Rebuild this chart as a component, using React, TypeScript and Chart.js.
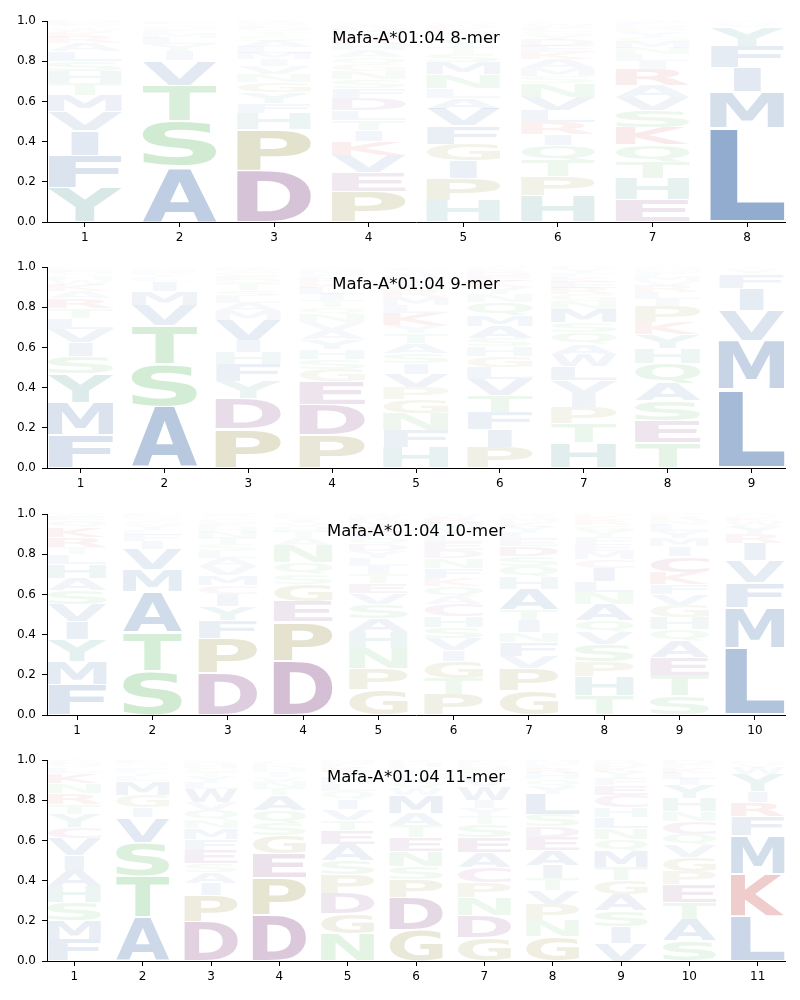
import React, { useEffect, useRef } from "react";
import { Chart, registerables } from "chart.js";
Chart.register(...registerables);

const titles = ["Mafa-A*01:04 8-mer", "Mafa-A*01:04 9-mer", "Mafa-A*01:04 10-mer", "Mafa-A*01:04 11-mer"];
const yTicks = [0, 0.2, 0.4, 0.6, 0.8, 1.0];

// letters stacked bottom -> top, heights aligned
const letters8 = ["YFIVMTHSLARKWQED", "ASTVIYLMFGQE", "DPHFYGNVIMLASTQEWR", "PEVKITLDFSNGQAHRYMWC", "HPIGFVALNMSTYQEKDW", "HPTQIRLVNSMAKEDYGFWC", "EHTQKSVARILNMGYPDFW", "LMIFYVW"];
const heights8 = [
  [0.17, 0.16, 0.125, 0.095, 0.08, 0.06, 0.06, 0.05, 0.05, 0.04, 0.03, 0.025, 0.02, 0.015, 0.01, 0.01],
  [0.275, 0.225, 0.18, 0.125, 0.045, 0.035, 0.03, 0.025, 0.02, 0.015, 0.01, 0.01],
  [0.255, 0.205, 0.08, 0.05, 0.055, 0.05, 0.04, 0.04, 0.035, 0.03, 0.03, 0.03, 0.025, 0.02, 0.02, 0.015, 0.01, 0.01],
  [0.15, 0.095, 0.085, 0.07, 0.055, 0.05, 0.05, 0.06, 0.05, 0.045, 0.04, 0.035, 0.035, 0.035, 0.03, 0.03, 0.025, 0.025, 0.015, 0.01],
  [0.108, 0.11, 0.085, 0.085, 0.09, 0.085, 0.055, 0.045, 0.07, 0.06, 0.04, 0.035, 0.03, 0.025, 0.02, 0.02, 0.015, 0.01],
  [0.13, 0.095, 0.08, 0.075, 0.055, 0.06, 0.06, 0.065, 0.07, 0.035, 0.04, 0.045, 0.035, 0.03, 0.03, 0.025, 0.02, 0.02, 0.015, 0.01],
  [0.11, 0.105, 0.085, 0.085, 0.085, 0.085, 0.065, 0.06, 0.08, 0.04, 0.035, 0.03, 0.03, 0.025, 0.025, 0.02, 0.015, 0.01, 0.01],
  [0.47, 0.18, 0.12, 0.105, 0.095, 0.015, 0.01],
];

const letters9 = ["FMYSIVLTRAKWHQEN", "ASTVMILYFGQ", "PDYFHIVMALSTQEGWR", "PDEGSHYAVNQTILKRFMW", "HFNGPVISATYKLMRQEDWC", "PIFTVLGHSAMQNYKEDRW", "HTPIVLWAQSMNGREKFYD", "TESAQHYKPILRVMFNG", "LMVIFYW"];
const heights9 = [
  [0.165, 0.16, 0.145, 0.085, 0.07, 0.065, 0.055, 0.05, 0.05, 0.035, 0.03, 0.025, 0.02, 0.02, 0.015, 0.01],
  [0.305, 0.21, 0.195, 0.1, 0.07, 0.05, 0.02, 0.015, 0.015, 0.01, 0.01],
  [0.195, 0.15, 0.085, 0.085, 0.06, 0.06, 0.1, 0.045, 0.04, 0.035, 0.03, 0.03, 0.02, 0.02, 0.02, 0.01, 0.01],
  [0.165, 0.15, 0.115, 0.06, 0.05, 0.05, 0.05, 0.045, 0.04, 0.04, 0.035, 0.035, 0.03, 0.03, 0.025, 0.025, 0.02, 0.02, 0.01],
  [0.1, 0.085, 0.085, 0.07, 0.06, 0.065, 0.055, 0.05, 0.05, 0.05, 0.04, 0.06, 0.04, 0.04, 0.03, 0.03, 0.025, 0.025, 0.02, 0.015],
  [0.1, 0.09, 0.085, 0.085, 0.08, 0.06, 0.055, 0.05, 0.04, 0.06, 0.055, 0.065, 0.04, 0.035, 0.03, 0.025, 0.02, 0.015, 0.01],
  [0.125, 0.095, 0.08, 0.065, 0.07, 0.07, 0.06, 0.05, 0.06, 0.05, 0.065, 0.04, 0.035, 0.03, 0.03, 0.025, 0.02, 0.02, 0.01],
  [0.125, 0.11, 0.1, 0.085, 0.1, 0.075, 0.07, 0.06, 0.08, 0.035, 0.035, 0.03, 0.025, 0.025, 0.02, 0.015, 0.01],
  [0.39, 0.245, 0.15, 0.11, 0.07, 0.02, 0.01],
];

const letters10 = ["FMYIVSAHLTRKQEW", "STAMVIFLYGQNE", "DPFYICMVALSTNHEGQW", "DPEGSQNATHVIKL", "GPNHASVETILYDQFKMRW", "PTGIVSHCAQKFNDELYMRW", "GPVFNITAHQSDELYKMRW", "THPSVQANLICMEFYGRKD", "STEAQHGVFKCIMYLNRP", "LMFVIRYWKTA"];
const heights10 = [
  [0.15, 0.115, 0.11, 0.09, 0.085, 0.07, 0.06, 0.07, 0.05, 0.035, 0.05, 0.05, 0.035, 0.02, 0.01],
  [0.22, 0.195, 0.2, 0.11, 0.1, 0.04, 0.03, 0.025, 0.025, 0.02, 0.015, 0.01, 0.01],
  [0.21, 0.17, 0.09, 0.07, 0.06, 0.045, 0.05, 0.045, 0.04, 0.035, 0.035, 0.03, 0.03, 0.025, 0.02, 0.02, 0.015, 0.01],
  [0.27, 0.195, 0.1, 0.085, 0.05, 0.06, 0.085, 0.035, 0.03, 0.025, 0.02, 0.02, 0.015, 0.01],
  [0.125, 0.105, 0.1, 0.08, 0.07, 0.07, 0.055, 0.05, 0.045, 0.04, 0.04, 0.035, 0.035, 0.03, 0.03, 0.03, 0.025, 0.02, 0.015],
  [0.1, 0.08, 0.085, 0.055, 0.06, 0.055, 0.055, 0.06, 0.04, 0.05, 0.04, 0.05, 0.05, 0.04, 0.04, 0.035, 0.03, 0.03, 0.025, 0.02],
  [0.12, 0.11, 0.06, 0.07, 0.05, 0.06, 0.055, 0.1, 0.06, 0.055, 0.05, 0.05, 0.035, 0.03, 0.03, 0.025, 0.02, 0.01, 0.01],
  [0.095, 0.095, 0.075, 0.085, 0.06, 0.06, 0.08, 0.06, 0.055, 0.065, 0.045, 0.04, 0.035, 0.035, 0.03, 0.03, 0.025, 0.02, 0.01],
  [0.095, 0.1, 0.09, 0.08, 0.06, 0.06, 0.06, 0.055, 0.05, 0.06, 0.08, 0.05, 0.04, 0.035, 0.03, 0.025, 0.02, 0.01],
  [0.335, 0.2, 0.125, 0.11, 0.085, 0.045, 0.04, 0.025, 0.02, 0.005, 0.01],
];

const letters11 = ["FMSHAIVCYTRNKLQEW", "ATSVIGMLYFQNED", "DPIASEFMNQVWLYTGHRK", "DPEGSQATNVIHKLW", "NGDPSAETVIQLHYKFM", "GDPSNETAMWQVILHK", "GDNPCAESTYIWVLQHKF", "GNPVTIAEDSLYQHRFM", "VISAGTMQNLHCEFYKDR", "SATEPGVQCNHYILKFD", "LKMFRIYWVHQ"];
const heights11 = [
  [0.105, 0.095, 0.09, 0.08, 0.08, 0.075, 0.085, 0.055, 0.065, 0.05, 0.055, 0.05, 0.05, 0.025, 0.02, 0.01, 0.01],
  [0.215, 0.205, 0.17, 0.125, 0.05, 0.06, 0.07, 0.025, 0.02, 0.02, 0.015, 0.01, 0.01, 0.005],
  [0.195, 0.13, 0.06, 0.055, 0.045, 0.065, 0.055, 0.055, 0.04, 0.05, 0.04, 0.065, 0.03, 0.03, 0.025, 0.02, 0.02, 0.015, 0.005],
  [0.23, 0.185, 0.12, 0.09, 0.06, 0.065, 0.075, 0.035, 0.03, 0.025, 0.025, 0.02, 0.02, 0.015, 0.005],
  [0.135, 0.1, 0.1, 0.095, 0.07, 0.08, 0.07, 0.05, 0.055, 0.05, 0.04, 0.035, 0.03, 0.03, 0.025, 0.02, 0.015],
  [0.155, 0.16, 0.09, 0.065, 0.075, 0.07, 0.06, 0.06, 0.09, 0.035, 0.03, 0.03, 0.025, 0.02, 0.02, 0.015],
  [0.115, 0.11, 0.09, 0.075, 0.075, 0.075, 0.075, 0.065, 0.04, 0.04, 0.04, 0.07, 0.03, 0.025, 0.025, 0.02, 0.015, 0.015],
  [0.12, 0.08, 0.08, 0.07, 0.06, 0.065, 0.075, 0.065, 0.055, 0.06, 0.1, 0.04, 0.035, 0.03, 0.025, 0.02, 0.02],
  [0.09, 0.08, 0.08, 0.08, 0.07, 0.065, 0.08, 0.06, 0.055, 0.055, 0.05, 0.06, 0.05, 0.035, 0.03, 0.025, 0.02, 0.015],
  [0.1, 0.105, 0.085, 0.09, 0.065, 0.07, 0.06, 0.055, 0.065, 0.05, 0.065, 0.065, 0.03, 0.03, 0.025, 0.02, 0.02],
  [0.225, 0.21, 0.19, 0.095, 0.07, 0.055, 0.085, 0.03, 0.02, 0.01, 0.01],
];

const panelLetters = [letters8, letters9, letters10, letters11];
const panelHeights = [heights8, heights9, heights10, heights11];

const groupColor: Record<string, number[]> = {
  blue: [22, 78, 150],
  teal: [20, 120, 115],
  green: [45, 165, 55],
  khaki: [120, 112, 10],
  purple: [100, 20, 100],
  red: [180, 20, 20],
  pink: [150, 40, 120],
};
const letterGroup: Record<string, string> = {
  A: "blue", V: "blue", L: "blue", I: "blue", M: "blue", F: "blue", W: "blue",
  H: "teal", Y: "teal",
  S: "green", T: "green", N: "green", Q: "green",
  G: "khaki", P: "khaki",
  D: "purple", E: "purple",
  K: "red", R: "red",
  C: "pink",
};

const FONT = "bold 200px 'DejaVu Sans'";
const CANVAS_TOPS = [0, 246, 493, 739];

const logoPlugin = {
  id: "logoLetters",
  afterDatasetsDraw(chart: any, _args: any, opts: any) {
    const { ctx, scales } = chart;
    const xs = scales.x;
    const ys = scales.y;
    const letters: string[] = opts.letters;
    const heights: number[][] = opts.heights;
    ctx.save();
    ctx.font = FONT;
    ctx.textAlign = "left";
    ctx.textBaseline = "alphabetic";
    const mE = ctx.measureText("E");
    const eWidth = mE.actualBoundingBoxLeft + mE.actualBoundingBoxRight;
    letters.forEach((col, i) => {
      const pos = i + 1;
      let base = 0;
      for (let k = 0; k < col.length; k++) {
        const ch = col[k];
        const h = heights[i][k];
        const y0 = base;
        const y1 = base + h;
        base = y1;
        const pad = h * 0.025;
        const px0 = xs.getPixelForValue(pos - 0.39);
        const px1 = xs.getPixelForValue(pos + 0.39);
        const pyTop = ys.getPixelForValue(y1 - pad);
        const pyBot = ys.getPixelForValue(y0 + pad);
        const m = ctx.measureText(ch);
        const gl = m.actualBoundingBoxLeft;
        const gr = m.actualBoundingBoxRight;
        const ga = m.actualBoundingBoxAscent;
        const gd = m.actualBoundingBoxDescent;
        const gw = gl + gr;
        const gh = ga + gd;
        const boxW = px1 - px0;
        const sx = Math.min(boxW / gw, boxW / eWidth);
        const drawnW = gw * sx;
        const left = (px0 + px1) / 2 - drawnW / 2;
        const c = groupColor[letterGroup[ch]];
        const a = Math.min(1, h);
        ctx.fillStyle = `rgba(${c[0]},${c[1]},${c[2]},${a})`;
        ctx.save();
        ctx.translate(left, pyTop);
        ctx.scale(sx, (pyBot - pyTop) / gh);
        ctx.fillText(ch, gl, ga);
        ctx.restore();
      }
    });
    ctx.restore();
  },
};

const titlePlugin = {
  id: "innerTitle",
  afterDraw(chart: any, _args: any, opts: any) {
    const { ctx, chartArea } = chart;
    ctx.save();
    ctx.font = "16.5px 'DejaVu Sans'";
    ctx.fillStyle = "#000";
    ctx.textAlign = "center";
    ctx.textBaseline = "alphabetic";
    ctx.fillText(opts.text, (chartArea.left + chartArea.right) / 2, chartArea.top + 21.5);
    ctx.restore();
  },
};

function LogoPanel({ index }: { index: number }) {
  const ref = useRef<HTMLCanvasElement | null>(null);
  useEffect(() => {
    const canvas = ref.current;
    if (!canvas) return;
    const letters = panelLetters[index];
    const heights = panelHeights[index];
    const n = letters.length;
    const positions = letters.map((_, i) => i + 1);
    const tickFont = { family: "'DejaVu Sans'", size: 12 };
    const chart = new Chart(canvas, {
      type: "scatter",
      data: { datasets: [{ data: [], pointRadius: 0 }] },
      options: {
        responsive: false,
        animation: false,
        events: [],
        layout: { padding: { top: 21, right: 15, left: 0, bottom: 0 } },
        plugins: {
          legend: { display: false },
          tooltip: { enabled: false },
          title: { display: false },
          logoLetters: { letters, heights },
          innerTitle: { text: titles[index] },
        } as any,
        scales: {
          x: {
            type: "linear",
            min: 0.6,
            max: n + 0.4,
            afterBuildTicks: (s: any) => {
              s.ticks = positions.map((v) => ({ value: v }));
            },
            afterFit: (s: any) => {
              s.height = 25;
            },
            grid: { display: true, drawOnChartArea: false, drawTicks: true, tickLength: 5, color: "#000", tickWidth: 1 },
            border: { display: true, color: "#000", width: 1 },
            ticks: { color: "#000", font: tickFont, padding: 4, autoSkip: false, maxRotation: 0, callback: (v: any) => String(v) },
          },
          y: {
            type: "linear",
            min: 0,
            max: 1,
            afterBuildTicks: (s: any) => {
              s.ticks = yTicks.map((v) => ({ value: v }));
            },
            afterFit: (s: any) => {
              s.width = 47;
            },
            grid: { display: true, drawOnChartArea: false, drawTicks: true, tickLength: 5, color: "#000", tickWidth: 1 },
            border: { display: true, color: "#000", width: 1 },
            ticks: { color: "#000", font: tickFont, padding: 6, callback: (v: any) => Number(v).toFixed(1) },
          },
        },
      } as any,
      plugins: [logoPlugin, titlePlugin],
    });
    return () => chart.destroy();
  }, [index]);
  return (
    <canvas
      ref={ref}
      width={800}
      height={247}
      style={{ position: "absolute", left: 0, top: CANVAS_TOPS[index], width: 800, height: 247 }}
    />
  );
}

export default function App() {
  return (
    <div style={{ position: "absolute", left: 0, top: 0, width: 800, height: 1000, background: "#fff" }}>
      {[0, 1, 2, 3].map((i) => (
        <LogoPanel key={i} index={i} />
      ))}
    </div>
  );
}
